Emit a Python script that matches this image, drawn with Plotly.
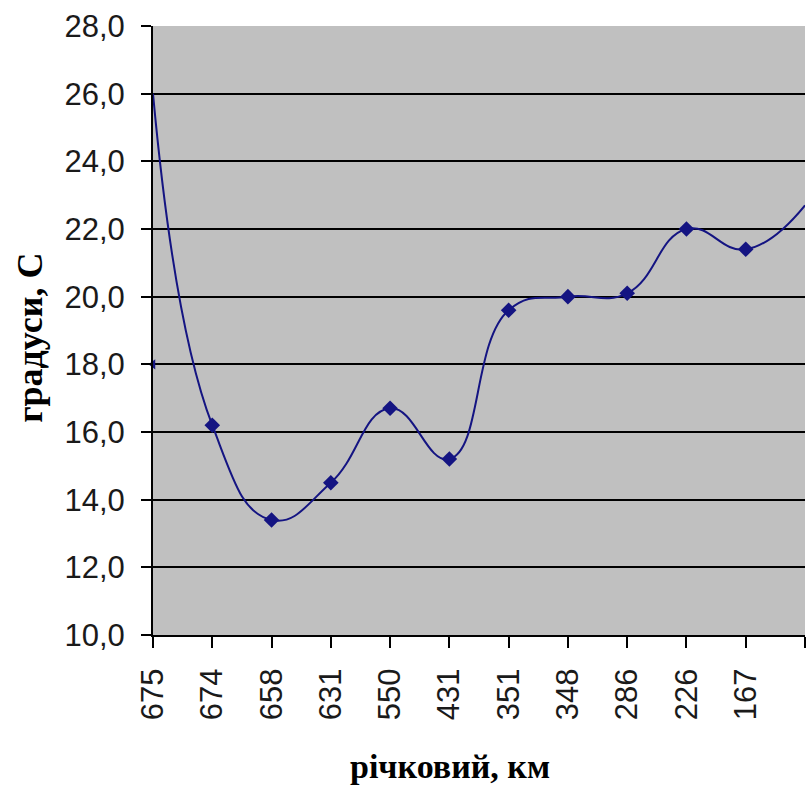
import plotly.graph_objects as go

categories = ["675", "674", "658", "631", "550", "431", "351", "348", "286", "226", "167", ""]
temperature = [26.0, 16.2, 13.4, 14.5, 16.7, 15.2, 19.6, 20.0, 20.1, 22.0, 21.4, 22.7]
stray_value = [18.0]
y_ticks = [10, 12, 14, 16, 18, 20, 22, 24, 26, 28]
y_tick_labels = ["10,0", "12,0", "14,0", "16,0", "18,0", "20,0", "22,0", "24,0", "26,0", "28,0"]

idx = list(range(len(categories)))
NAVY = "#141482"

fig = go.Figure()
fig.add_trace(go.Scatter(
    x=idx, y=temperature, mode="lines",
    line=dict(color=NAVY, width=2, shape="spline", smoothing=1.3),
    hoverinfo="skip", showlegend=False))
fig.add_trace(go.Scatter(
    x=idx[1:11], y=temperature[1:11], mode="markers",
    marker=dict(color=NAVY, symbol="diamond", size=12),
    showlegend=False))
fig.add_trace(go.Scatter(
    x=idx[:1], y=stray_value, mode="markers",
    marker=dict(color=NAVY, symbol="triangle-left", size=9),
    cliponaxis=False, showlegend=False))

fig.update_layout(
    width=806, height=788,
    margin=dict(l=153, r=1, t=26, b=153, autoexpand=False),
    paper_bgcolor="white", plot_bgcolor="#C0C0C0",
    xaxis=dict(
        range=[0, len(categories) - 1], tickmode="array", tickvals=idx, ticktext=categories,
        tickangle=-90, showgrid=False, zeroline=False, automargin=False,
        showline=True, linecolor="black", linewidth=2,
        ticks="outside", ticklen=11, tickwidth=2, tickcolor="black",
        ticklabelstandoff=8,
        tickfont=dict(family="Liberation Sans", size=31, color="#1a1a1a"),
    ),
    yaxis=dict(
        range=[10, 28], tickmode="array", tickvals=y_ticks, ticktext=y_tick_labels,
        showgrid=True, gridcolor="black", gridwidth=2, zeroline=False, automargin=False,
        showline=True, linecolor="black", linewidth=2,
        ticks="outside", ticklen=10, tickwidth=2, tickcolor="black",
        ticklabelstandoff=10,
        tickfont=dict(family="Liberation Sans", size=31, color="#1a1a1a"),
    ),
    annotations=[
        dict(text="градуси, С", xref="paper", yref="paper", x=0, y=0.488,
             xanchor="center", yanchor="middle", textangle=-90, showarrow=False,
             xshift=-123,
             font=dict(family="Liberation Serif", size=36, color="black", weight="bold")),
        dict(text="річковий, км", xref="paper", yref="paper", x=0.455, y=0,
             xanchor="center", yanchor="middle", showarrow=False, yshift=-131,
             borderpad=0,
             font=dict(family="Liberation Serif", size=34, color="black", weight="bold")),
    ],
)

fig.write_html(
    "out.html",
    config={"displayModeBar": False},
    post_script="document.body.style.margin='0';document.body.style.overflow='hidden';",
)
